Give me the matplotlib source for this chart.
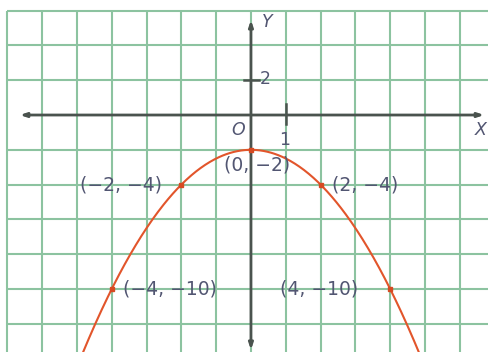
#!/usr/bin/env python3
"""Textbook-style graph of the parabola y = -x^2/2 - 2 on a green grid."""
import matplotlib
matplotlib.use("Agg")
import matplotlib.pyplot as plt
import numpy as np

GRID_COL = "#8cc3a0"
AXIS_COL = "#4a534e"
CURVE = "#e2552b"
TEXT = "#525672"

# labelled points on the curve
PT_X = [-4, -2, 0, 2, 4]
PT_Y = [-10, -4, -2, -4, -10]
PT_LABELS = ["(\u22124, \u221210)", "(\u22122, \u22124)", "(0, \u22122)",
             "(2, \u22124)", "(4, \u221210)"]

# parabola y = A*x^2 + C, read from the labelled points
A_COEF = -0.5
C_COEF = -2.0

# grid: one unit per column, two units per row
GRID_X = list(range(-7, 7))
GRID_Y = [6, 4, 2, -2, -4, -6, -8, -10, -12]

XLIM = (-7.21, 6.81)
YLIM = (-13.62, 6.61)

fig = plt.figure(figsize=(4.88, 3.52), dpi=100, facecolor="white")
ax = fig.add_axes([0, 0, 1, 1])
ax.set_xlim(*XLIM)
ax.set_ylim(*YLIM)
ax.axis("off")

# grid
for gx in GRID_X:
    ax.plot([gx, gx], [YLIM[0], 6], color=GRID_COL, lw=1.5, zorder=1,
            solid_capstyle="butt")
for gy in GRID_Y:
    ax.plot([-7, XLIM[1]], [gy, gy], color=GRID_COL, lw=1.5, zorder=1,
            solid_capstyle="butt")

# axes with arrows at both ends
arrow = dict(arrowstyle="<|-|>,head_length=0.35,head_width=0.12",
             color=AXIS_COL, lw=2.0, shrinkA=0, shrinkB=0)
ax.annotate("", xy=(6.7, 0), xytext=(-6.64, 0), arrowprops=arrow, zorder=3)
ax.annotate("", xy=(0, 5.46), xytext=(0, -13.5), arrowprops=arrow, zorder=3)

# unit ticks
ax.plot([-0.2, 0.23], [2, 2], color=AXIS_COL, lw=1.8, zorder=3)
ax.plot([1, 1], [0.63, -0.52], color=AXIS_COL, lw=1.8, zorder=3)

# curve
xs = np.linspace(-5.3, 5.3, 400)
ax.plot(xs, A_COEF * xs ** 2 + C_COEF, color=CURVE, lw=1.5, zorder=4)
ax.plot(PT_X, PT_Y, "s", color="#d64a22", ms=3, zorder=5)

fs = 13.5
ax.text(-3.68, -10, PT_LABELS[0], ha="left", va="center", fontsize=fs, color=TEXT, zorder=6)
ax.text(-2.56, -4, PT_LABELS[1], ha="right", va="center", fontsize=fs, color=TEXT, zorder=6)
ax.text(0.17, -2.87, PT_LABELS[2], ha="center", va="center", fontsize=fs, color=TEXT, zorder=6)
ax.text(2.33, -4, PT_LABELS[3], ha="left", va="center", fontsize=fs, color=TEXT, zorder=6)
ax.text(0.83, -10, PT_LABELS[4], ha="left", va="center", fontsize=fs, color=TEXT, zorder=6)

# axis labels
ax.text(-0.37, -0.86, "O", ha="center", va="center", fontsize=12.5,
        style="italic", color=TEXT, zorder=6)
ax.text(0.98, -1.44, "1", ha="center", va="center", fontsize=12.5, color=TEXT, zorder=6)
ax.text(0.42, 2.07, "2", ha="center", va="center", fontsize=12.5, color=TEXT, zorder=6)
ax.text(0.47, 5.35, "Y", ha="center", va="center", fontsize=12.5,
        style="italic", color=TEXT, zorder=6)
ax.text(6.61, -0.86, "X", ha="center", va="center", fontsize=12.5,
        style="italic", color=TEXT, zorder=6)

fig.savefig("out.png", dpi=100, facecolor="white")
